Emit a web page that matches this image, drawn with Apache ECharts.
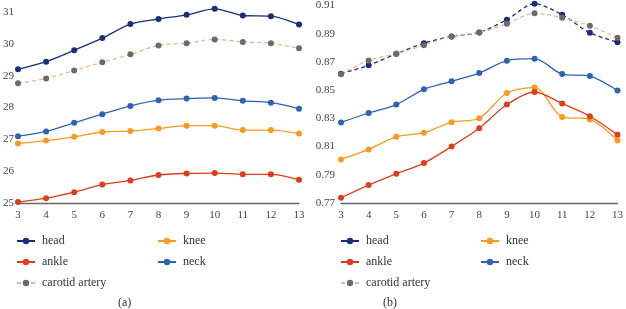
<!DOCTYPE html>
<html>
<head>
<meta charset="utf-8">
<script src="https://cdn.jsdelivr.net/npm/echarts@6/dist/echarts.min.js"></script>
<style>
html, body { margin: 0; padding: 0; background: #fff; }
#chart { width: 626px; height: 309px; }
</style>
</head>
<body>
<div id="chart"></div>
<script>
// x categories shared by both panels
var xLabels = ['3', '4', '5', '6', '7', '8', '9', '10', '11', '12', '13'];

// panel (a)
var headA = [29.20, 29.44, 29.80, 30.18, 30.62, 30.78, 30.91, 31.10, 30.89, 30.87, 30.61];
var kneeA = [26.87, 26.96, 27.08, 27.23, 27.26, 27.34, 27.43, 27.43, 27.29, 27.29, 27.18];
var ankleA = [25.03, 25.15, 25.34, 25.58, 25.71, 25.88, 25.93, 25.94, 25.90, 25.90, 25.73];
var neckA = [27.10, 27.25, 27.52, 27.79, 28.05, 28.23, 28.28, 28.30, 28.21, 28.15, 27.96];
var carotidA = [28.76, 28.91, 29.16, 29.42, 29.67, 29.95, 30.02, 30.14, 30.06, 30.02, 29.86];

// panel (b)
var headB = [0.8617, 0.8676, 0.8758, 0.8833, 0.8881, 0.8909, 0.8999, 0.9112, 0.9034, 0.8907, 0.8840];
var kneeB = [0.8009, 0.8080, 0.8169, 0.8198, 0.8273, 0.8301, 0.8480, 0.8518, 0.8310, 0.8292, 0.8143];
var ankleB = [0.7737, 0.7827, 0.7907, 0.7983, 0.8101, 0.8230, 0.8398, 0.8487, 0.8405, 0.8315, 0.8183];
var neckB = [0.8271, 0.8338, 0.8398, 0.8506, 0.8563, 0.8621, 0.8709, 0.8723, 0.8614, 0.8600, 0.8497];
var carotidB = [0.8612, 0.8711, 0.8758, 0.8819, 0.8881, 0.8909, 0.8970, 0.9045, 0.9013, 0.8956, 0.8871];

var chart = echarts.init(document.getElementById('chart'));
var font = 'Liberation Serif';

var colors = {
    head: '#1c2d78',
    knee: '#f59c1e',
    ankle: '#dc3e1b',
    neck: '#2f62b3',
    carotid: '#6b6b6b'
};

function mkSeries(name, data, idx, dashed, lineColor) {
    var c = colors[name === 'carotid artery' ? 'carotid' : name];
    return {
        name: name,
        type: 'line',
        xAxisIndex: idx,
        yAxisIndex: idx,
        data: data,
        smooth: 0.3,
        clip: false,
        symbol: 'circle',
        symbolSize: 6,
        itemStyle: { color: c },
        lineStyle: {
            width: 1.3,
            type: dashed ? [4, 3] : 'solid',
            color: lineColor || c
        }
    };
}

function mkLegend(name, left, top) {
    return {
        data: [name],
        left: left,
        top: top,
        padding: 0,
        itemWidth: 18,
        itemHeight: 8,
        itemGap: 0,
        selectedMode: false,
        textStyle: { fontFamily: font, fontSize: 12, color: '#333', padding: [0, 0, 0, 2] }
    };
}

var axisLabelStyle = { fontFamily: font, fontSize: 11, color: '#444' };

var option = {
    animation: false,
    grid: [
        { left: 16, width: 283, top: 12, height: 191 },
        { left: 341, width: 279, top: 5, height: 198 }
    ],
    xAxis: [0, 1].map(function (i) {
        return {
            gridIndex: i,
            type: 'category',
            boundaryGap: false,
            data: xLabels,
            axisLine: { lineStyle: { color: '#666', width: 1.3 } },
            axisTick: { show: false },
            axisLabel: Object.assign({ margin: 7 }, axisLabelStyle)
        };
    }),
    yAxis: [
        {
            gridIndex: 0, type: 'value', min: 25, max: 31, interval: 1,
            axisLine: { show: false }, axisTick: { show: false }, splitLine: { show: false },
            axisLabel: Object.assign({ margin: 4 }, axisLabelStyle)
        },
        {
            gridIndex: 1, type: 'value', min: 0.77, max: 0.91, interval: 0.02,
            axisLine: { show: false }, axisTick: { show: false }, splitLine: { show: false },
            axisLabel: Object.assign({ margin: 6, formatter: function (v) { return v.toFixed(2); } }, axisLabelStyle)
        }
    ],
    legend: [
        mkLegend('head', 16, 235),
        mkLegend('knee', 157, 235),
        mkLegend('ankle', 16, 256),
        mkLegend('neck', 157, 256),
        mkLegend('carotid artery', 16, 277),
        mkLegend('head', 340, 235),
        mkLegend('knee', 480, 235),
        mkLegend('ankle', 340, 256),
        mkLegend('neck', 480, 256),
        mkLegend('carotid artery', 340, 277)
    ],
    graphic: [
        { type: 'text', left: 118, top: 297, style: { text: '(a)', font: '12px "Liberation Serif"', fill: '#333' } },
        { type: 'text', left: 383, top: 297, style: { text: '(b)', font: '12px "Liberation Serif"', fill: '#333' } }
    ],
    series: [
        mkSeries('head', headA, 0, false),
        mkSeries('knee', kneeA, 0, false),
        mkSeries('ankle', ankleA, 0, false),
        mkSeries('neck', neckA, 0, false),
        mkSeries('carotid artery', carotidA, 0, true, '#f2b490'),
        mkSeries('head', headB, 1, true),
        mkSeries('knee', kneeB, 1, false),
        mkSeries('ankle', ankleB, 1, false),
        mkSeries('neck', neckB, 1, false),
        mkSeries('carotid artery', carotidB, 1, true, '#f2b490')
    ]
};

chart.setOption(option);
</script>
</body>
</html>
